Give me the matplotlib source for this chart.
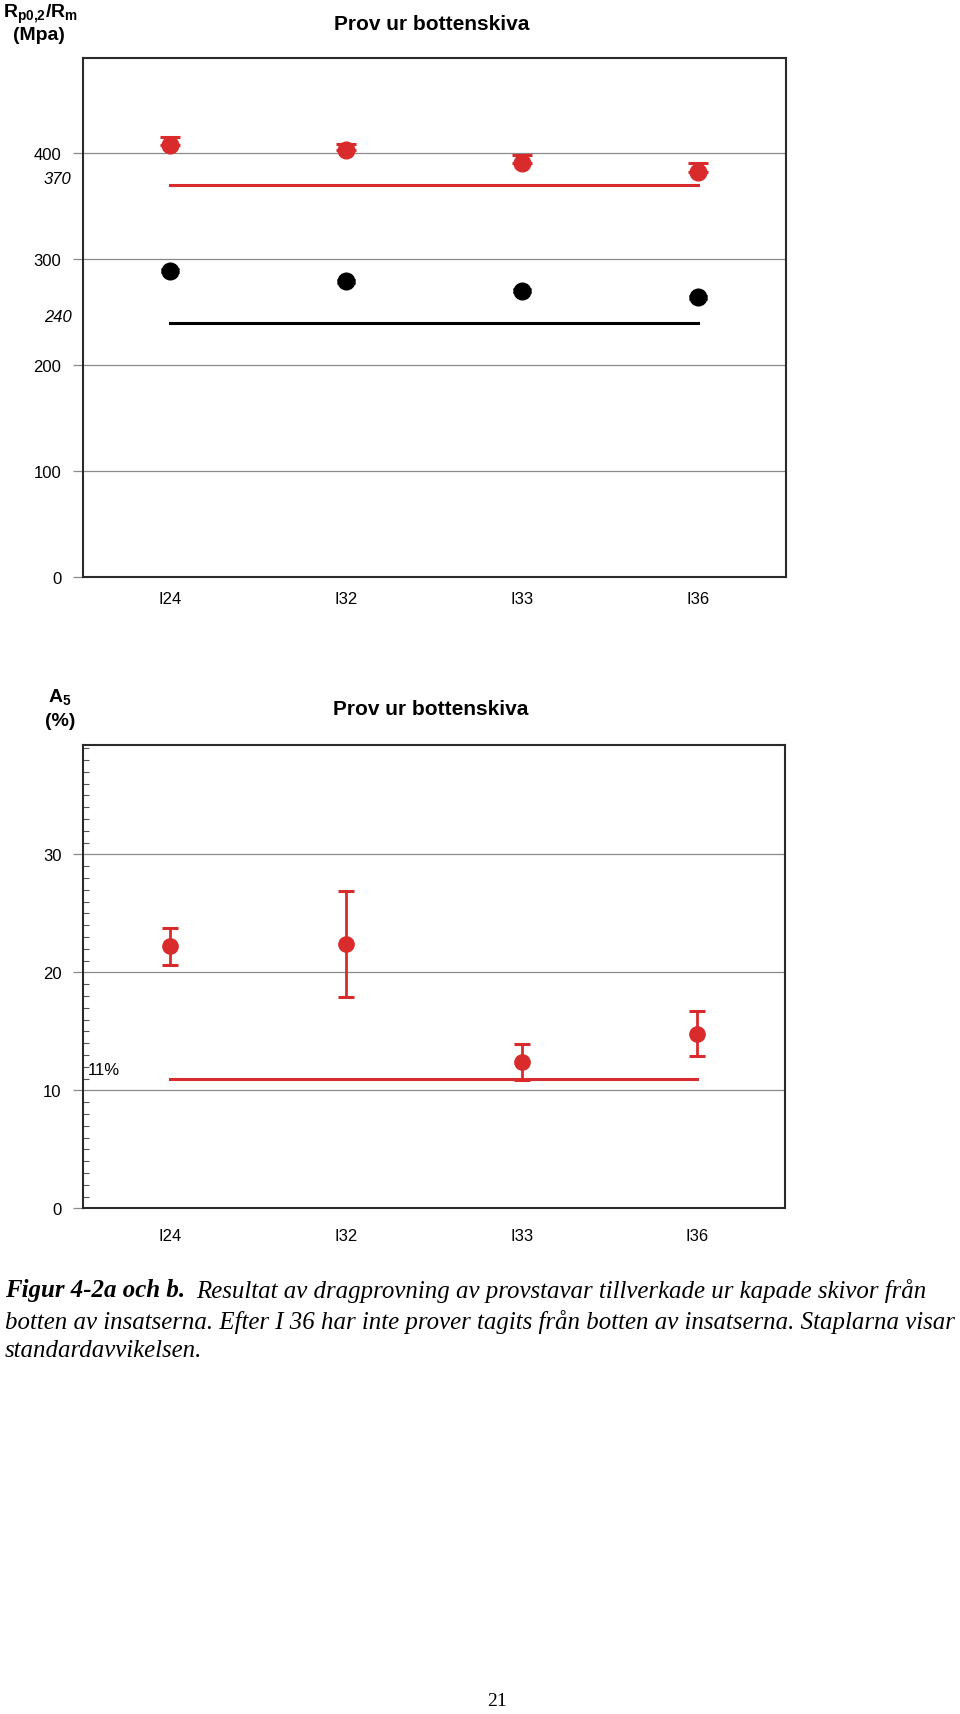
import matplotlib
matplotlib.use('Agg')
import matplotlib.pyplot as plt
import numpy as np

# ---------------- data ----------------
categories = ['I24', 'I32', 'I33', 'I36']
rm_mean = [407.5, 403.5, 390.5, 382.0]      # Rm (red)
rm_err_upper = [8.0, 5.0, 7.5, 8.5]
rp_mean = [289.0, 279.0, 270.0, 264.0]      # Rp0.2 (black)
rp_err = [1.5, 1.5, 1.5, 1.5]
rm_min = 370
rp_min = 240
yticks1 = [0, 100, 200, 300, 400]

a5_mean = [22.2, 22.4, 12.4, 14.8]
a5_err = [1.6, 4.5, 1.5, 1.9]
a5_min = 11
yticks2 = [0, 10, 20, 30]

title = 'Prov ur bottenskiva'
caption_bold = 'Figur 4-2a och b.'
caption_line1 = 'Resultat av dragprovning av provstavar tillverkade ur kapade skivor från'
caption_line2 = 'botten av insatserna. Efter I 36 har inte prover tagits från botten av insatserna. Staplarna visar'
caption_line3 = 'standardavvikelsen.'
page_no = '21'

# ---------------- style ----------------
plt.rcParams['font.family'] = ['Liberation Sans', 'DejaVu Sans']
plt.rcParams['mathtext.fontset'] = 'custom'
plt.rcParams['mathtext.rm'] = 'Liberation Sans'
plt.rcParams['mathtext.bf'] = 'Liberation Sans:bold'
plt.rcParams['mathtext.it'] = 'Liberation Sans:italic'

RED = '#d92b2b'
GRID = '#8a8a8a'
SPINE = '#2a2a2a'
W, H = 960, 1715
fig = plt.figure(figsize=(W / 100, H / 100), dpi=100)


def fx(px):
    return px / W


def fy(py):
    return 1 - py / H


x = np.arange(1, len(categories) + 1)


def style_axes(ax, yticks, xlab_pad):
    ax.set_xlim(0.5, 4.5)
    ax.set_yticks(yticks)
    ax.set_yticklabels([str(t) for t in yticks])
    ax.yaxis.grid(True, color=GRID, lw=0.9)
    ax.set_axisbelow(True)
    ax.tick_params(axis='y', which='major', direction='out', length=7.2,
                   width=0.9, color=GRID, pad=8.0, labelsize=12)
    ax.set_xticks(x)
    ax.set_xticklabels(categories)
    ax.tick_params(axis='x', length=0, pad=xlab_pad, labelsize=12)
    for s in ax.spines.values():
        s.set_color(SPINE)
        s.set_linewidth(1.5)


# ---------------- chart a ----------------
ax1 = fig.add_axes([fx(82.5), fy(577.5), fx(786 - 82.5), (577.5 - 59) / H])
ax1.set_ylim(0, 490)
style_axes(ax1, yticks1, 10.5)

ax1.plot([x[0], x[-1]], [rm_min, rm_min], color=RED, lw=2.2, zorder=2)
ax1.plot([x[0], x[-1]], [rp_min, rp_min], color='black', lw=2.2, zorder=2)
ax1.errorbar(x, rm_mean, yerr=[np.zeros(len(x)), rm_err_upper], fmt='o',
             color=RED, ms=12, capsize=7, capthick=2.2, elinewidth=2, zorder=3)
ax1.errorbar(x, rp_mean, yerr=rp_err, fmt='o', color='black', ms=12,
             capsize=6.3, capthick=2, elinewidth=1.5, zorder=3)

for val in (rm_min, rp_min):
    ax1.annotate(str(val), xy=(0, val), xycoords=('axes fraction', 'data'),
                 xytext=(-8, 4.5), textcoords='offset points', ha='right',
                 va='center', fontsize=12, fontstyle='italic')

fig.text(fx(432), fy(24), title, ha='center', va='center', fontsize=15,
         fontweight='bold')
fig.text(fx(40), fy(14), r'$\mathbf{R_{p0{,}2}/R_m}$', ha='center', va='center',
         fontsize=14)
fig.text(fx(39), fy(36), '(Mpa)', ha='center', va='center', fontsize=14,
         fontweight='bold')

# ---------------- chart b ----------------
ax2 = fig.add_axes([fx(82.5), fy(1209.3), fx(785 - 82.5), (1209.3 - 745.7) / H])
ax2.set_ylim(0, 39.3)
style_axes(ax2, yticks2, 14)
ax2.set_yticks(np.arange(0, 40, 1), minor=True)
ax2.tick_params(axis='y', which='minor', direction='in', length=4.3,
                width=0.8, color='#555555')

ax2.plot([x[0], x[-1]], [a5_min, a5_min], color=RED, lw=2.2, zorder=2)
ax2.errorbar(x, a5_mean, yerr=a5_err, fmt='o', color=RED, ms=11,
             capsize=5.6, capthick=2.2, elinewidth=2, zorder=3)
ax2.annotate(f'{a5_min}%', xy=(0, a5_min), xycoords=('axes fraction', 'data'),
             xytext=(3.5, 6.5), textcoords='offset points', ha='left',
             va='center', fontsize=12)

fig.text(fx(431), fy(710), title, ha='center', va='center', fontsize=15,
         fontweight='bold')
fig.text(fx(60), fy(697), r'$\mathbf{A_5}$', ha='center', va='center',
         fontsize=14)
fig.text(fx(60), fy(722), '(%)', ha='center', va='center', fontsize=14,
         fontweight='bold')

# ---------------- caption ----------------
renderer = fig.canvas.get_renderer()
serif = ['Liberation Serif', 'DejaVu Serif']
probe = fig.text(0, 0, caption_line2, fontfamily=serif, fontstyle='italic',
                 fontsize=10)
w10 = probe.get_window_extent(renderer).width
probe.remove()
fs = 10 * 953 / w10

x0 = fx(5)
tb = fig.text(x0, fy(1291), caption_bold, fontfamily=serif, fontstyle='italic',
              fontweight='bold', fontsize=fs, va='center', ha='left')
bb = tb.get_window_extent(renderer)
fig.text((bb.x1 + 0.6 * fs) / W, fy(1291), caption_line1, fontfamily=serif,
         fontstyle='italic', fontsize=fs, va='center', ha='left')
fig.text(x0, fy(1322), caption_line2, fontfamily=serif, fontstyle='italic',
         fontsize=fs, va='center', ha='left')
fig.text(x0, fy(1351), caption_line3, fontfamily=serif, fontstyle='italic',
         fontsize=fs, va='center', ha='left')

fig.text(fx(497), fy(1702), page_no, fontfamily=serif, fontsize=14,
         ha='center', va='center')

fig.savefig('out.png', dpi=100)
